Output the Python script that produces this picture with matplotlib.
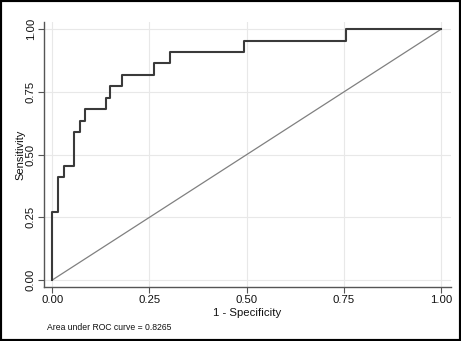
import numpy as np
import matplotlib.pyplot as plt
from matplotlib.patches import Rectangle

# ROC corner points (1 - specificity, sensitivity)
fpr = [0.0, 0.0, 0.0137, 0.029, 0.0566, 0.070, 0.084, 0.139, 0.149,
       0.179, 0.262, 0.303, 0.494, 0.755, 1.0]
tpr = [0.0, 0.273, 0.409, 0.455, 0.591, 0.636, 0.682, 0.727, 0.773,
       0.818, 0.864, 0.909, 0.955, 1.0, 1.0]
ref_line = [0.0, 1.0]
ticks = [0.0, 0.25, 0.5, 0.75, 1.0]
tick_labels = ["0.00", "0.25", "0.50", "0.75", "1.00"]
auc_text = "Area under ROC curve = 0.8265"

plt.rcParams['font.family'] = ['Liberation Sans', 'DejaVu Sans']

fig = plt.figure(figsize=(4.61, 3.41), dpi=100)
ax = fig.add_axes([44/461, 1 - 287/341, (451-44)/461, (287-22)/341])

ax.plot(ref_line, ref_line, color='#808080', lw=0.9, zorder=2)
ax.step(fpr, tpr, where='post', color='#3a3a3a', lw=1.5, zorder=3)

ax.set_xlim(-0.0214, 1.0257)
ax.set_ylim(-0.028, 1.029)
ax.set_xticks(ticks)
ax.set_xticklabels(tick_labels, fontsize=8.2)
ax.set_yticks(ticks)
ax.set_yticklabels(tick_labels, fontsize=8.2, rotation=90, va='center')
ax.grid(True, color='#e8e8e8', lw=0.8, zorder=0)
ax.set_axisbelow(True)
for s in ['top', 'right']:
    ax.spines[s].set_visible(False)
for s in ['left', 'bottom']:
    ax.spines[s].set_color('#555555')
    ax.spines[s].set_linewidth(1.0)
ax.tick_params(length=4, width=0.8, color='#555555', pad=2, labelcolor='#111111')
ax.set_xlabel("1 - Specificity", fontsize=8.2, labelpad=2, color='#111111')
ax.set_ylabel("Sensitivity", fontsize=8.0, labelpad=0, color='#111111')

fig.text(47/461, 1 - 328/341, auc_text, fontsize=6.2, va='center', ha='left',
         color='#111111')

fig.patches.append(Rectangle((0, 0), 1, 1, transform=fig.transFigure,
                             fill=False, edgecolor='black', lw=3))

fig.savefig("out.png", dpi=100)
